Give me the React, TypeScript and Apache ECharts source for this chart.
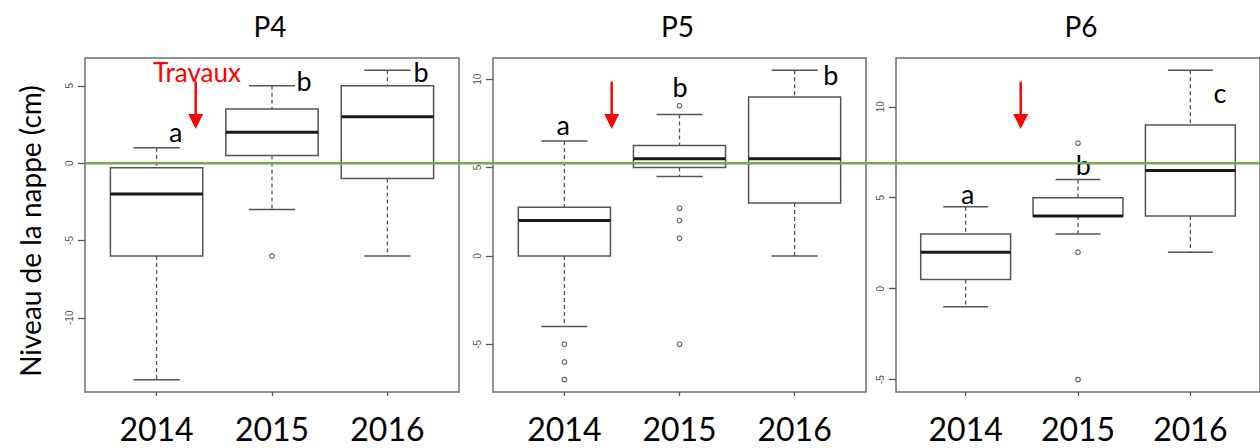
import React, { useEffect, useRef } from 'react';
import * as echarts from 'echarts';

const years = ['2014', '2015', '2016'];
const panels = ['P4', 'P5', 'P6'];

// [low whisker, Q1, median, Q3, high whisker] per year
const p4Box = [[-14, -6, -2, -0.3, 1], [-3, 0.5, 2, 3.5, 5], [-6, -1, 3, 5, 6]];
const p5Box = [[-4, 0, 2, 2.75, 6.5], [4.5, 5, 5.5, 6.25, 8], [0, 3, 5.5, 9, 10.5]];
const p6Box = [[-1, 0.5, 2, 3, 4.5], [3, 4, 4, 5, 6], [2, 4, 6.5, 9, 12]];

// outliers: [year position (1..3), value]
const p4Out = [[2, -6]];
const p5Out = [[1, -5], [1, -6], [1, -7], [2, 8.5], [2, 2.7], [2, 2], [2, 1], [2, -5]];
const p6Out = [[2, 8], [2, 2], [2, -5]];

const p4Ticks = [-10, -5, 0, 5];
const p5Ticks = [-5, 0, 5, 10];
const p6Ticks = [-5, 0, 5, 10];

const p4Letters = ['a', 'b', 'b'];
const p5Letters = ['a', 'b', 'b'];
const p6Letters = ['a', 'b', 'c'];

const boxes = [p4Box, p5Box, p6Box];
const outs = [p4Out, p5Out, p6Out];
const ticks = [p4Ticks, p5Ticks, p6Ticks];
const letters = [p4Letters, p5Letters, p6Letters];

// layout (pixels)
const gridLefts = [85, 493, 896];
const gridWidths = [374, 373, 374];
const gridTop = 58;
const gridHeight = 334;
// letter anchor (x center, glyph bottom) per panel
const letterPos = [
  [[175.7, 140], [304, 89.3], [421, 80]],
  [[563.3, 133.3], [680, 95], [830.7, 83.3]],
  [[967.7, 201.7], [1083.3, 173.3], [1220, 100.7]],
];
const arrowX = [195.7, 611.7, 1020.7];

const FONT = 'Lato, "Open Sans", sans-serif';

function yRange(b: number[][], o: number[][]) {
  let lo = Infinity;
  let hi = -Infinity;
  b.forEach((r) => r.forEach((v) => { lo = Math.min(lo, v); hi = Math.max(hi, v); }));
  o.forEach((r) => { lo = Math.min(lo, r[1]); hi = Math.max(hi, r[1]); });
  const pad = (hi - lo) * 0.04;
  return [lo - pad, hi + pad];
}

const boxColor = '#555';

function renderBox(params: any, api: any) {
  const x = api.value(0);
  const lo = api.value(1), q1 = api.value(2), med = api.value(3), q3 = api.value(4), hi = api.value(5);
  const half = api.size([0.4, 0])[0];
  const cap = api.size([0.2, 0])[0];
  const c = (v: number) => api.coord([x, v]);
  const pLo = c(lo), pQ1 = c(q1), pMed = c(med), pQ3 = c(q3), pHi = c(hi);
  const cx = pMed[0];
  const dash = { stroke: boxColor, lineWidth: 1.3, lineDash: [4, 3] };
  const solid = { stroke: boxColor, lineWidth: 1.5 };
  return {
    type: 'group',
    children: [
      { type: 'line', shape: { x1: cx, y1: pHi[1], x2: cx, y2: pQ3[1] }, style: dash },
      { type: 'line', shape: { x1: cx, y1: pQ1[1], x2: cx, y2: pLo[1] }, style: dash },
      { type: 'line', shape: { x1: cx - cap, y1: pHi[1], x2: cx + cap, y2: pHi[1] }, style: solid },
      { type: 'line', shape: { x1: cx - cap, y1: pLo[1], x2: cx + cap, y2: pLo[1] }, style: solid },
      {
        type: 'rect',
        shape: { x: cx - half, y: pQ3[1], width: half * 2, height: pQ1[1] - pQ3[1] },
        style: { fill: '#fff', stroke: boxColor, lineWidth: 1.5 },
      },
      { type: 'line', shape: { x1: cx - half, y1: pMed[1], x2: cx + half, y2: pMed[1] }, style: { stroke: '#1a1a1a', lineWidth: 3 } },
    ],
  };
}

function renderOutlier(params: any, api: any) {
  const p = api.coord([api.value(0), api.value(1)]);
  return {
    type: 'circle',
    shape: { cx: p[0], cy: p[1], r: 2.3 },
    style: { fill: '#fff', stroke: '#666', lineWidth: 1.2 },
  };
}

export default function App() {
  const ref = useRef<HTMLDivElement>(null);
  useEffect(() => {
    if (!ref.current) return;
    const chart = echarts.init(ref.current, null, { renderer: 'svg' });
    const grids: any[] = [];
    const xAxes: any[] = [];
    const yAxes: any[] = [];
    const series: any[] = [];
    panels.forEach((p, i) => {
      const [ymin, ymax] = yRange(boxes[i], outs[i]);
      grids.push({
        left: gridLefts[i], top: gridTop, width: gridWidths[i], height: gridHeight,
        show: true, borderColor: '#6e6e6e', borderWidth: 1.5, backgroundColor: 'transparent',
      });
      xAxes.push({
        gridIndex: i, type: 'value', min: 0.38, max: 3.62, position: 'bottom',
        axisLine: { show: false, onZero: false }, splitLine: { show: false },
        axisTick: { show: true, customValues: [1, 2, 3], length: 4, lineStyle: { color: '#555', width: 1.3 } },
        axisLabel: {
          customValues: [1, 2, 3], formatter: (v: number) => years[Math.round(v) - 1] || '',
          fontSize: 32, fontFamily: FONT, color: '#000', margin: 20,
        },
      });
      yAxes.push({
        gridIndex: i, type: 'value', min: ymin, max: ymax, position: 'left',
        axisLine: { show: false, onZero: false }, splitLine: { show: false },
        axisTick: { show: true, customValues: ticks[i], length: 7, lineStyle: { color: '#555', width: 1.3 } },
        axisLabel: {
          customValues: ticks[i], rotate: 90, fontSize: 10, color: '#555',
          fontFamily: '"Liberation Sans", Arial, sans-serif', margin: 11,
        },
      });
      series.push({
        type: 'custom', xAxisIndex: i, yAxisIndex: i, renderItem: renderBox,
        encode: { x: 0, y: [1, 2, 3, 4, 5] },
        data: boxes[i].map((b, k) => [k + 1, ...b]),
        z: 2,
      });
      series.push({
        type: 'custom', xAxisIndex: i, yAxisIndex: i, renderItem: renderOutlier,
        encode: { x: 0, y: 1 },
        data: outs[i],
        z: 3,
      });
    });

    const graphics: any[] = [];
    panels.forEach((p, i) => {
      graphics.push({
        type: 'text', x: gridLefts[i] + gridWidths[i] / 2 - 2, y: 26, z: 50,
        style: { text: p, font: `28px ${FONT}`, fill: '#000', align: 'center', verticalAlign: 'middle' },
      });
      letters[i].forEach((l, k) => {
        const [lx, ly] = letterPos[i][k];
        graphics.push({
          type: 'text', x: lx, y: ly + 5, z: 50,
          style: { text: l, font: `27px ${FONT}`, fill: '#000', align: 'center', verticalAlign: 'bottom' },
        });
      });
      const ax = arrowX[i];
      graphics.push({ type: 'line', z: 60, shape: { x1: ax, y1: 81.7, x2: ax, y2: 116 }, style: { stroke: '#ff0000', lineWidth: 2.5 } });
      graphics.push({ type: 'polygon', z: 60, shape: { points: [[ax - 7.5, 114], [ax + 7.5, 114], [ax, 129]] }, style: { fill: '#ff0000' } });
    });
    graphics.push({
      type: 'text', x: 197, y: 72, z: 60,
      style: { text: 'Travaux', font: `26px ${FONT}`, fill: '#ff0000', align: 'center', verticalAlign: 'middle' },
    });
    graphics.push({
      type: 'text', x: 30, y: 231, rotation: Math.PI / 2, z: 50,
      style: { text: 'Niveau de la nappe (cm)', font: `28px ${FONT}`, fill: '#000', align: 'center', verticalAlign: 'middle' },
    });

    chart.setOption({
      animation: false,
      backgroundColor: '#fff',
      grid: grids, xAxis: xAxes, yAxis: yAxes, series,
      graphic: graphics,
    });
    const yZero = (chart.convertToPixel({ xAxisIndex: 0, yAxisIndex: 0 }, [1, 0]) as number[])[1];
    chart.setOption({
      graphic: [...graphics, {
        type: 'line', z: 100,
        shape: { x1: gridLefts[0] + 1, y1: yZero, x2: 1260, y2: yZero },
        style: { stroke: '#70ad47', lineWidth: 2.5 },
      }],
    });
    return () => chart.dispose();
  }, []);
  return <div ref={ref} style={{ position: 'fixed', left: 0, top: 0, width: 1260, height: 448 }} />;
}
